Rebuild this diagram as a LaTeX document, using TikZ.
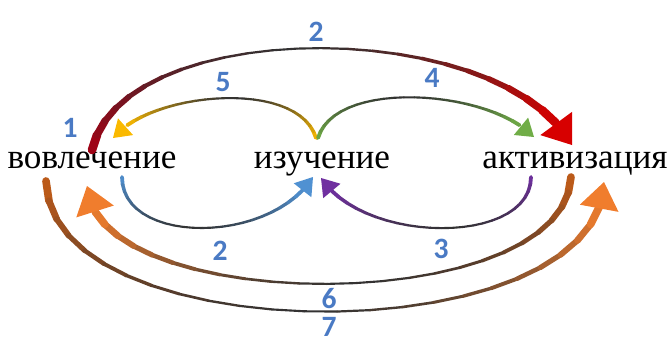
\documentclass[tikz,border=0pt]{standalone}
\usepackage{fontspec}
\setmainfont{Liberation Serif}
\newfontfamily\numfont{Carlito}
\usetikzlibrary{calc}

\definecolor{numblue}{RGB}{74,122,196}
\definecolor{arrowgray}{RGB}{50,50,50}
\definecolor{redstart}{RGB}{165,0,20}
\definecolor{redarr}{RGB}{215,0,0}
\definecolor{goldarr}{RGB}{250,185,0}
\definecolor{greenarr}{RGB}{112,173,71}
\definecolor{bluearr}{RGB}{80,145,210}
\definecolor{purplearr}{RGB}{112,48,160}
\definecolor{brownarr}{RGB}{196,92,24}
\definecolor{orangearr}{RGB}{240,125,45}

\tikzset{
  word/.style={font=\fontsize{25}{28}\selectfont, anchor=base, inner sep=0pt, text height=12pt},
  num/.style={font=\numfont\bfseries\fontsize{21}{24}\selectfont, text=numblue, inner sep=0pt},
}

% start colour, tip colour, end width (pt), tip length, tip half width, share before tip, path
\newcommand{\looparrow}[7]{%
  \path #7 \foreach \i [evaluate=\i as \t using \i*#6/24] in {0,...,24} {coordinate[pos=\t] (q\i)} coordinate[pos=1] (qe);
  \foreach \i [count=\j from 0] in {1,...,24}{
    \pgfmathsetmacro\f{abs((\i-0.5)/12-1)}
    \pgfmathtruncatemacro\c{100*\f^1.4}
    \pgfmathsetmacro\w{1.5+(#3-1.5)*\f^2}
    \ifnum\i<13 \colorlet{segcol}{#1!\c!arrowgray}\else\colorlet{segcol}{#2!\c!arrowgray}\fi
    \draw[segcol, line width=\w pt, line cap=round] (q\j) -- (q\i);
  }
  \coordinate (qb) at ($(qe)!#4!(q24)$);
  \fill[#2] (qe) -- ($(qb)!#5!90:(qe)$) -- ($(qb)!#5!-90:(qe)$) -- cycle;
}

\begin{document}
\begin{tikzpicture}[x=0.025cm,y=-0.025cm]
\useasboundingbox (0,0) rectangle (669,337);

\node[word] (vov) at (92,168) {вовлечение};
\node[word] (izu) at (322,168) {изучение};
\node[word] (akt) at (575,168) {активизация};

% upper arcs
\looparrow{redstart}{redarr}{6.5}{19pt}{14pt}{0.94}{([shift={(0,-18)}]vov.base) .. controls (122,15) and (500,15) .. ([shift={(-3,-23)}]akt.base)}
\looparrow{goldarr}{goldarr}{2.8}{12pt}{8pt}{0.9}{([shift={(-6,-30)}]izu.base) .. controls (298,78) and (150,92) .. ([shift={(21,-30)}]vov.base)}
\looparrow{greenarr}{greenarr}{2.8}{12pt}{8pt}{0.91}{([shift={(-4,-30)}]izu.base) .. controls (336,78) and (490,90) .. ([shift={(-41,-31)}]akt.base)}

% lower arcs
\looparrow{bluearr}{bluearr}{2.8}{12pt}{8pt}{0.93}{([shift={(30,9)}]vov.base) .. controls (122,245) and (270,245) .. ([shift={(-9,9)}]izu.base)}
\looparrow{purplearr}{purplearr}{2.8}{12pt}{8pt}{0.93}{([shift={(-44,9)}]akt.base) .. controls (531,245) and (365,245) .. ([shift={(-1,10)}]izu.base)}
\looparrow{brownarr}{orangearr}{5.8}{19pt}{14pt}{0.93}{([shift={(-4,9)}]akt.base) .. controls (565,318) and (95,318) .. ([shift={(-5,18)}]vov.base)}
\looparrow{brownarr}{orangearr}{5.8}{19pt}{14pt}{0.95}{([shift={(-46,13)}]vov.base) .. controls (50,355) and (600,355) .. ([shift={(29,14)}]akt.base)}

% numbers
\node[num] (n1) at (70,128) {1};
\node[num] (n2a) at (316,32) {2};
\node[num] (n5) at (223,82) {5};
\node[num] (n4) at (432,78) {4};
\node[num] (n2b) at (220,251) {2};
\node[num] (n3) at (441,249) {3};
\node[num] (n6) at (329,299) {6};
\node[num] (n7) at (329,327) {7};
\end{tikzpicture}
\end{document}
